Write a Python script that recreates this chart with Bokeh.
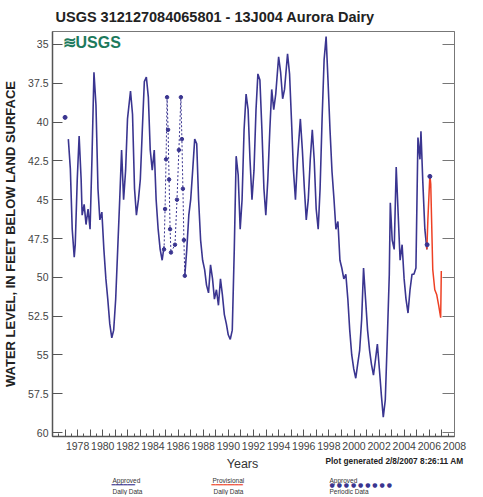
from bokeh.plotting import figure
from bokeh.models import Range1d, FixedTicker, LinearAxis, Label
from bokeh.layouts import column
from bokeh.embed import file_html
from bokeh.resources import INLINE

nan = float("nan")

# Approved daily data: decimal year, water level (feet below land surface)
daily_years = [
    1977.26, 1977.42, 1977.57, 1977.73, 1977.81, 1977.97, 1978.12, 1978.28, 1978.36, 1978.52,
    1978.67, 1978.83, 1978.99, 1979.14, 1979.30, 1979.46, 1979.62, 1979.77, 1979.93, 1980.09,
    1980.25, 1980.40, 1980.56, 1980.72, 1980.87, 1981.03, 1981.19, 1981.35, 1981.50, 1981.66,
    1981.82, 1981.97, 1982.21, 1982.37, 1982.53, 1982.68, 1982.84, 1982.99, 1983.15, 1983.31,
    1983.47, 1983.63, 1983.78, 1983.94, 1984.10, 1984.25, 1984.41, 1984.57, 1984.73, 1984.88,
    nan,
    1986.53, 1986.69, 1986.85, 1987.00, 1987.16, 1987.32, 1987.48, 1987.63, 1987.79, 1987.95,
    1988.11, 1988.26, 1988.42, 1988.58, 1988.74, 1988.89, 1989.05, 1989.21, 1989.37, 1989.52,
    1989.68, 1989.84, 1989.99, 1990.15, 1990.31, 1990.47, 1990.62, 1990.78, 1990.94, 1991.09,
    1991.25, 1991.41, 1991.57, 1991.72, 1991.88, 1992.04, 1992.20, 1992.35, 1992.51, 1992.67,
    1992.83, 1992.98, 1993.14, 1993.30, 1993.45, 1993.61, 1993.77, 1994.00, 1994.16, 1994.32,
    1994.47, 1994.71, 1994.87, 1995.02, 1995.18, 1995.34, 1995.50, 1995.73, 1995.89, 1996.05,
    1996.20, 1996.36, 1996.52, 1996.68, 1996.83, 1996.99, 1997.15, 1997.30, 1997.46, 1997.62,
    1997.78, 1997.93, 1998.09, 1998.25, 1998.41, 1998.56, 1998.72, 1998.88, 1999.03, 1999.19,
    1999.35, 1999.51, 1999.66, 1999.82, 1999.98, 2000.14, 2000.29, 2000.45, 2000.61, 2000.76,
    2000.92, 2001.08, 2001.24, 2001.39, 2001.55, 2001.71, 2001.86, 2002.02, 2002.18, 2002.33,
    2002.49, 2002.65, 2002.81, 2002.89, 2003.04, 2003.20, 2003.36, 2003.52, 2003.67, 2003.83,
    2003.99, 2004.14, 2004.30, 2004.46, 2004.62, 2004.77, 2004.93, 2005.09, 2005.25, 2005.33,
    2005.48, 2005.64, 2005.80,
]
daily_levels = [
    41.1, 43.0, 46.9, 48.7, 47.9, 43.7, 40.9, 43.7, 46.0, 45.3,
    46.6, 45.6, 46.9, 42.4, 36.8, 38.9, 44.3, 46.3, 45.8, 48.2,
    50.1, 51.4, 53.0, 53.9, 53.4, 51.4, 48.2, 45.0, 41.8, 45.0,
    43.1, 39.8, 38.0, 39.5, 44.3, 46.0, 45.0, 43.7, 40.5, 37.4,
    37.1, 38.4, 41.8, 43.1, 41.8, 45.0, 46.9, 48.2, 48.9, 48.0,
    nan,
    49.9, 48.2, 46.0, 45.0, 43.1, 41.1, 41.4, 45.0, 47.6, 48.9,
    49.5, 50.5, 51.0, 49.2, 50.1, 51.4, 50.8, 51.8, 50.1, 51.1,
    52.4, 53.0, 53.7, 54.0, 53.4, 48.2, 42.2, 43.4, 46.9, 45.0,
    40.5, 38.2, 39.2, 42.4, 45.0, 43.1, 39.2, 36.9, 37.3, 40.5,
    44.3, 46.0, 43.7, 40.5, 37.9, 39.2, 38.2, 35.8, 36.8, 38.5,
    37.9, 35.6, 36.9, 39.8, 43.1, 45.0, 42.4, 39.8, 41.8, 44.3,
    46.3, 45.0, 42.4, 40.5, 42.4, 45.6, 46.9, 44.3, 39.8, 36.0,
    34.5, 37.3, 40.5, 43.2, 45.0, 46.9, 46.4, 48.9, 49.4, 50.1,
    49.8, 51.4, 53.4, 55.0, 55.9, 56.5, 55.6, 54.7, 52.7, 49.4,
    51.4, 53.4, 54.7, 55.6, 56.3, 55.3, 54.3, 55.9, 57.6, 59.0,
    57.9, 54.0, 49.8, 45.2, 47.6, 48.2, 42.9, 46.0, 48.9, 47.9,
    50.1, 51.4, 52.3, 50.8, 49.8, 49.8, 49.4, 41.0, 42.4, 40.6,
    43.9, 46.9, 48.2,
]

# Provisional daily data
prov_years = [2005.80, 2005.88, 2006.04, 2006.11, 2006.27, 2006.43, 2006.58, 2006.74, 2006.90, 2006.95]
prov_levels = [48.2, 46.3, 43.4, 44.0, 49.5, 50.8, 51.1, 51.8, 52.6, 49.6]

# Approved periodic data (dashed, 1985-1986)
periodic_years = [1984.88, 1984.96, 1985.04, 1985.12, 1985.20, 1985.28, 1985.36, 1985.43,
                  1985.75, 1985.91, 1986.06, 1986.22, 1986.30, 1986.38, 1986.46, 1986.53]
periodic_levels = [48.2, 45.6, 42.4, 38.4, 40.5, 43.7, 46.9, 48.4,
                   47.9, 45.0, 41.8, 38.4, 41.1, 44.3, 47.6, 49.9]

# Isolated periodic measurements
spot_years = [1977.00, 2005.82, 2006.04]
spot_levels = [39.7, 47.9, 43.5]

y_ticks = [35, 37.5, 40, 42.5, 45, 47.5, 50, 52.5, 55, 57.5, 60]
y_tick_labels = ["35", "37.5", "40", "42.5", "45", "47.5", "50", "52.5", "55", "57.5", "60"]
year_ticks = [1976, 1977, 1978, 1979, 1980, 1981, 1982, 1983, 1984, 1985, 1986, 1987, 1988,
              1989, 1990, 1991, 1992, 1993, 1994, 1995, 1996, 1997, 1998, 1999, 2000, 2001,
              2002, 2003, 2004, 2005, 2006, 2007, 2008]
year_labels = ["", "", "1978", "", "1980", "", "1982", "", "1984", "", "1986", "", "1988",
               "", "1990", "", "1992", "", "1994", "", "1996", "", "1998", "", "2000", "",
               "2002", "", "2004", "", "2006", "", "2008"]
half_year_ticks = [y + 0.5 for y in year_ticks[:-1]]

BLUE = "#3a3590"
RED = "#ee4024"
AXIS = "#555555"
FONT = "Liberation Sans"

p = figure(width=467, height=455, output_backend="svg", toolbar_location=None,
           x_range=Range1d(1976, 2008), y_range=Range1d(60.25, 34.17),
           min_border_left=49, min_border_right=13, min_border_top=31, min_border_bottom=19,
           background_fill_color="white", border_fill_color="white")
p.frame_align = False

p.title.text = "USGS 312127084065801 - 13J004  Aurora Dairy"
p.title.text_font = FONT
p.title.text_font_style = "bold"
p.title.text_font_size = "14.5px"
p.title.text_color = "#222222"
p.title.align = "left"
p.title.offset = 3
p.title.standoff = 13

p.xgrid.visible = False
p.ygrid.visible = False
p.outline_line_color = "#777777"
p.outline_line_width = 1

xa = p.xaxis[0]
xa.ticker = FixedTicker(ticks=year_ticks, minor_ticks=half_year_ticks)
xa.major_label_overrides = {t: l for t, l in zip(year_ticks, year_labels)}
xa.major_tick_in = 7
xa.major_tick_out = 0
xa.minor_tick_in = 3
xa.minor_tick_out = 0
xa.major_label_standoff = 5
xa.major_label_text_font = FONT
xa.major_label_text_font_size = "10.5px"
xa.major_label_text_color = "#444444"
xa.axis_line_color = AXIS
xa.axis_line_width = 1.5
xa.major_tick_line_color = AXIS
xa.minor_tick_line_color = AXIS

ya = p.yaxis[0]
ya.ticker = FixedTicker(ticks=y_ticks)
ya.major_label_overrides = {t: l for t, l in zip(y_ticks, y_tick_labels)}
ya.major_tick_in = 10
ya.major_tick_out = 0
ya.minor_tick_line_color = None
ya.major_label_standoff = 4
ya.major_label_text_font = FONT
ya.major_label_text_font_size = "10.5px"
ya.major_label_text_color = "#444444"
ya.axis_line_color = AXIS
ya.axis_line_width = 1.5
ya.major_tick_line_color = AXIS
ya.axis_label = "WATER LEVEL, IN FEET BELOW LAND SURFACE"
ya.axis_label_text_font = FONT
ya.axis_label_text_font_style = "bold"
ya.axis_label_text_font_size = "13px"
ya.axis_label_text_color = "#222222"
ya.axis_label_standoff = 7

ra = LinearAxis(ticker=FixedTicker(ticks=y_ticks),
                major_label_overrides={t: "" for t in y_ticks},
                major_label_standoff=0,
                major_tick_in=12, major_tick_out=0, minor_tick_line_color=None,
                axis_line_color="#777777", major_tick_line_color="#777777")
p.add_layout(ra, "right")

p.line(daily_years, daily_levels, color=BLUE, line_width=1.6)
p.line(prov_years, prov_levels, color=RED, line_width=1.5)
p.line(periodic_years, periodic_levels, color=BLUE, line_width=1, line_dash="2 2")
p.scatter(periodic_years, periodic_levels, size=3.5, color=BLUE)
p.scatter(spot_years, spot_levels, size=4, color=BLUE)

# USGS logo inside the plot frame
p.add_layout(Label(x=10, y=403, x_units="screen", y_units="screen", text="\u224bUSGS",
                   text_font=FONT, text_font_size="16px", text_font_style="bold",
                   text_color="#1d7a5c", text_baseline="top"))

# Second strip: axis title, footnote and legend
QH = 40
q = figure(width=467, height=QH, output_backend="svg", toolbar_location=None,
           x_range=Range1d(0, 467), y_range=Range1d(0, QH),
           min_border_left=0, min_border_right=0, min_border_top=0, min_border_bottom=0,
           x_axis_location=None, y_axis_location=None,
           background_fill_color="white", border_fill_color="white")
q.frame_align = False
q.outline_line_color = None
q.xgrid.visible = False
q.ygrid.visible = False


def add_label(text, x, y, size, color="#333333", bold=False, align="left", baseline="top", font=FONT):
    q.add_layout(Label(x=x, y=y, x_units="screen", y_units="screen", text=text,
                       text_font=font, text_font_size=size, text_color=color,
                       text_font_style="bold" if bold else "normal",
                       text_align=align, text_baseline=baseline))


add_label("Years", 242, 32, "12.5px", color="#333333", align="center", baseline="middle")
add_label("Plot generated 2/8/2007 8:26:11 AM", 325, 35, "8.3px", color="#222222", bold=True,
          baseline="middle")
add_label("Approved", 112, 19, "6.5px")
add_label("\u2501\u2501\u2501\u2501\u2501\u2501", 111, 11, "6.5px", color=BLUE, baseline="middle", font="DejaVu Sans")
add_label("Daily Data", 112, 8, "6.5px")
add_label("Provisional", 212, 19, "6.5px")
add_label("\u2501\u2501\u2501\u2501\u2501\u2501\u2501\u2501", 211, 11, "6.5px", color=RED, baseline="middle", font="DejaVu Sans")
add_label("Daily Data", 213, 8, "6.5px")
add_label("Approved", 329, 19, "6.5px")
add_label("\u25cf \u25cf \u25cf \u25cf \u25cf \u25cf \u25cf \u25cf \u25cf", 329, 11, "6px", color=BLUE, baseline="middle", font="DejaVu Sans")
add_label("Periodic Data", 329, 8, "6.5px")

layout = column(p, q, spacing=0)
open("out.html", "w").write(file_html(layout, INLINE))
